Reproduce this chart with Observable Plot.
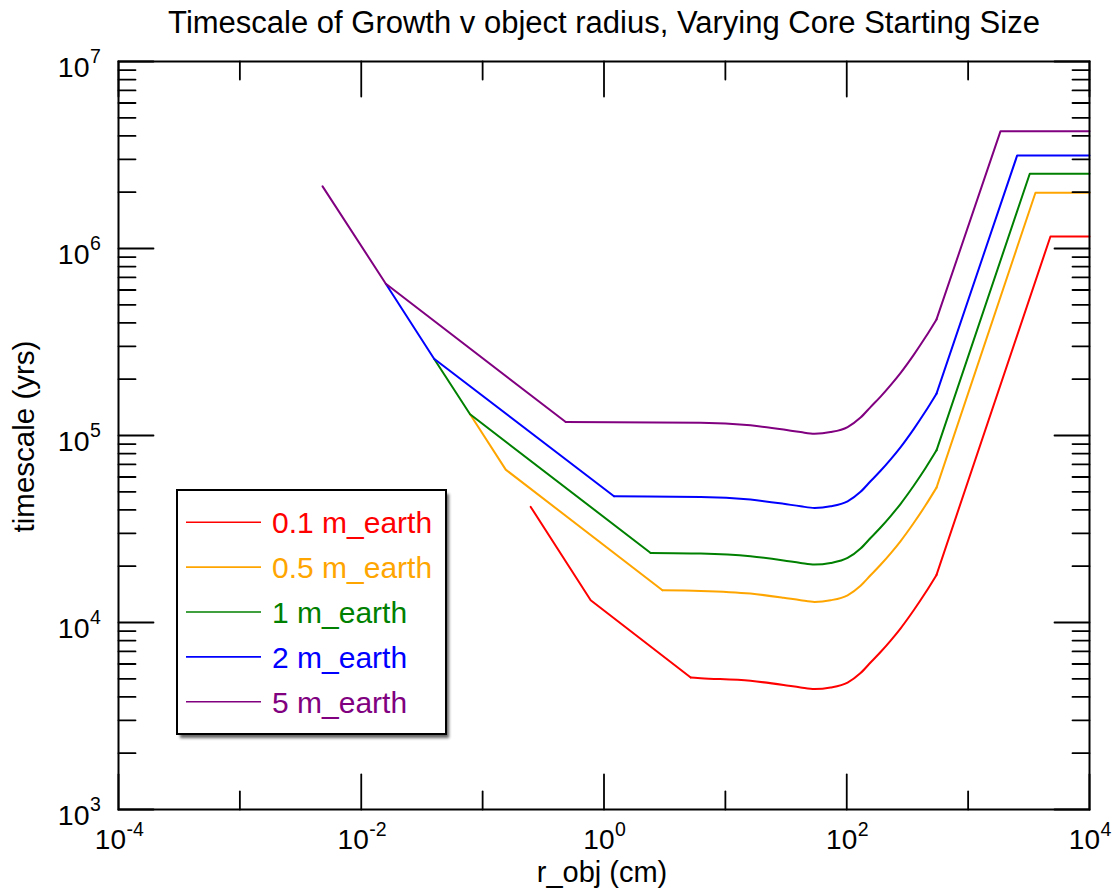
<!DOCTYPE html>
<html><head><meta charset="utf-8">
<script src="https://cdn.jsdelivr.net/npm/d3@7"></script>
<script src="https://cdn.jsdelivr.net/npm/@observablehq/plot@0.6"></script>
<style>body{margin:0;background:#fff}#chart{width:1117px;height:893px;position:relative}</style>
</head><body><div id="chart"></div>
<script>
const titleText = "Timescale of Growth v object radius, Varying Core Starting Size";
const xLabel = "r_obj (cm)";
const yLabel = "timescale (yrs)";
const seriesNames = ["0.1 m_earth", "0.5 m_earth", "1 m_earth", "2 m_earth", "5 m_earth"];
const seriesColors = ["#ff0000", "#ffa500", "#008000", "#0000ff", "#800080"];

// r_obj (cm) and timescale (yrs)
const rRed    = [0.249, 0.777, 5.18, 6.26, 16.1, 30.2, 41.7, 54.3, 73.6, 101.6, 130, 157, 190, 230, 277, 355, 446, 549, 4768, 10000];
const tRed    = [4.15e4, 1.315e4, 5.08e3, 5.04e3, 4.876e3, 4.631e3, 4.489e3, 4.403e3, 4.489e3, 4.775e3, 5.367e3, 6.107e3, 6.951e3, 8.005e3, 9.281e3, 1.159e4, 1.446e4, 1.797e4, 1.16e6, 1.16e6];
const rOrange = [0.0788, 0.155, 3.03, 6.26, 16.1, 30.2, 41.7, 54.3, 73.6, 101.6, 130, 157, 190, 230, 277, 355, 446, 549, 3587, 10000];
const tOrange = [1.298e5, 6.57e4, 1.487e4, 1.476e4, 1.428e4, 1.356e4, 1.315e4, 1.289e4, 1.315e4, 1.398e4, 1.572e4, 1.788e4, 2.036e4, 2.344e4, 2.718e4, 3.393e4, 4.234e4, 5.263e4, 1.987e6, 1.987e6];
const rGreen  = [0.0398, 0.0788, 2.424, 6.26, 16.1, 30.2, 41.7, 54.3, 73.6, 101.6, 130, 157, 190, 230, 277, 355, 446, 549, 3220, 10000];
const tGreen  = [2.575e5, 1.298e5, 2.353e4, 2.336e4, 2.259e4, 2.146e4, 2.080e4, 2.040e4, 2.080e4, 2.213e4, 2.487e4, 2.830e4, 3.221e4, 3.709e4, 4.301e4, 5.368e4, 6.699e4, 8.329e4, 2.51e6, 2.51e6];
const rBlue   = [0.01593, 0.0398, 1.209, 6.26, 16.1, 30.2, 41.7, 54.3, 73.6, 101.6, 130, 157, 190, 230, 277, 355, 446, 549, 2536, 10000];
const tBlue   = [6.48e5, 2.575e5, 4.73e4, 4.695e4, 4.542e4, 4.313e4, 4.182e4, 4.101e4, 4.182e4, 4.448e4, 4.999e4, 5.689e4, 6.475e4, 7.456e4, 8.645e4, 1.079e5, 1.347e5, 1.674e5, 3.145e6, 3.145e6];
const rPurple = [0.0048, 0.01593, 0.484, 6.26, 16.1, 30.2, 41.7, 54.3, 73.6, 101.6, 130, 157, 190, 230, 277, 355, 446, 549, 1849, 10000];
const tPurple = [2.15e6, 6.48e5, 1.18e5, 1.171e5, 1.133e5, 1.076e5, 1.043e5, 1.023e5, 1.043e5, 1.110e5, 1.247e5, 1.419e5, 1.615e5, 1.860e5, 2.157e5, 2.692e5, 3.360e5, 4.177e5, 4.24e6, 4.24e6];

// tick exponents
const xMajorExp = [-4, -2, 0, 2, 4];
const xMinorExp = [-3, -1, 1, 3];
const yMajorExp = [3, 4, 5, 6, 7];
const yMinorDecades = [3, 4, 5, 6];
const yMinorMantissas = [2, 3, 4, 5, 6, 7, 8, 9];

const rs = [rRed, rOrange, rGreen, rBlue, rPurple];
const ts = [tRed, tOrange, tGreen, tBlue, tPurple];
const rows = [];
seriesNames.forEach((name, i) => {
  const r = rs[i], t = ts[i], n = r.length;
  r.forEach((x, j) => {
    if (j <= 2) rows.push({name, key: name + "L", r: x, t: t[j], part: "lin"});
    if (j >= 2 && j <= n - 3) rows.push({name, key: name + "D", r: x, t: t[j], part: "dip"});
    if (j >= n - 3) rows.push({name, key: name + "R", r: x, t: t[j], part: "lin"});
  });
});
const yMinor = yMinorDecades.flatMap(e => yMinorMantissas.map(m => m * 10 ** e));

const tickShape = {draw(ctx, l) { ctx.moveTo(0, 0); ctx.lineTo(0, -l); }};
const tk = {anchor: "start", shape: tickShape, stroke: "black", strokeWidth: 1.8};

const plot = Plot.plot({
  width: 1117, height: 893,
  marginLeft: 118, marginRight: 28, marginTop: 61, marginBottom: 84,
  style: {fontFamily: "'Liberation Sans', Arial, Helvetica, sans-serif", fontSize: "28px", background: "white", overflow: "visible"},
  x: {type: "log", domain: [1e-4, 1e4], axis: null},
  y: {type: "log", domain: [1e3, 1e7], axis: null},
  color: {domain: seriesNames, range: seriesColors},
  marks: [
    Plot.line(rows.filter(d => d.part === "lin"), {x: "r", y: "t", z: "key", stroke: "name", strokeWidth: 2}),
    Plot.line(rows.filter(d => d.part === "dip"), {x: "r", y: "t", z: "key", stroke: "name", strokeWidth: 2, curve: "monotone-x"}),
    // bottom / top ticks
    Plot.vector(xMajorExp, {...tk, x: e => 10 ** e, frameAnchor: "bottom", length: 35, rotate: 0}),
    Plot.vector(xMinorExp, {...tk, x: e => 10 ** e, frameAnchor: "bottom", length: 18, rotate: 0}),
    Plot.vector(xMajorExp, {...tk, x: e => 10 ** e, frameAnchor: "top", length: 35, rotate: 180}),
    Plot.vector(xMinorExp, {...tk, x: e => 10 ** e, frameAnchor: "top", length: 18, rotate: 180}),
    // left / right ticks
    Plot.vector(yMajorExp, {...tk, y: e => 10 ** e, frameAnchor: "left", length: 35, rotate: 90}),
    Plot.vector(yMinor, {...tk, y: d => d, frameAnchor: "left", length: 17, rotate: 90}),
    Plot.vector(yMajorExp, {...tk, y: e => 10 ** e, frameAnchor: "right", length: 35, rotate: 270}),
    Plot.vector(yMinor, {...tk, y: d => d, frameAnchor: "right", length: 17, rotate: 270}),
    Plot.frame({stroke: "black", strokeWidth: 2}),
    // x tick labels
    Plot.text(xMajorExp.filter(e => e < 0), {x: e => 10 ** e, frameAnchor: "bottom", text: () => "10", textAnchor: "end", lineAnchor: "bottom", dx: 7.5, dy: 39.5, fontSize: 28, fill: "black"}),
    Plot.text(xMajorExp.filter(e => e < 0), {x: e => 10 ** e, frameAnchor: "bottom", text: e => String(e), textAnchor: "start", lineAnchor: "bottom", dx: 8, dy: 26, fontSize: 19.5, fill: "black"}),
    Plot.text(xMajorExp.filter(e => e >= 0), {x: e => 10 ** e, frameAnchor: "bottom", text: () => "10", textAnchor: "end", lineAnchor: "bottom", dx: 10.5, dy: 39.5, fontSize: 28, fill: "black"}),
    Plot.text(xMajorExp.filter(e => e >= 0), {x: e => 10 ** e, frameAnchor: "bottom", text: e => String(e), textAnchor: "start", lineAnchor: "bottom", dx: 11, dy: 26, fontSize: 19.5, fill: "black"}),
    // y tick labels
    Plot.text(yMajorExp, {y: e => 10 ** e, frameAnchor: "left", text: () => "10", textAnchor: "end", lineAnchor: "bottom", dx: -29, dy: 15, fontSize: 28.5, fill: "black"}),
    Plot.text(yMajorExp, {y: e => 10 ** e, frameAnchor: "left", text: e => String(e), textAnchor: "start", lineAnchor: "bottom", dx: -28.5, dy: 1, fontSize: 19.5, fill: "black"}),
    // titles
    Plot.text([titleText], {text: d => d, frameAnchor: "top", textAnchor: "middle", lineAnchor: "bottom", dy: -29, fontSize: 31, fill: "black"}),
    Plot.text([xLabel], {text: d => d, frameAnchor: "bottom", textAnchor: "middle", lineAnchor: "bottom", dx: -2, dy: 72, fontSize: 29, fill: "black"}),
    Plot.text([yLabel], {text: d => d, frameAnchor: "left", textAnchor: "middle", lineAnchor: "bottom", rotate: -90, dx: -85, dy: 1, fontSize: 29.5, fill: "black"})
  ]
});

// legend box
const svg = d3.select(plot);
const defs = svg.append("defs");
defs.append("filter").attr("id", "lgshadow").attr("x", "-10%").attr("y", "-10%").attr("width", "130%").attr("height", "130%")
  .append("feGaussianBlur").attr("stdDeviation", 1.6);
const lg = svg.append("g").attr("text-anchor", "start");
lg.append("rect").attr("x", 180).attr("y", 494).attr("width", 269).attr("height", 244)
  .attr("fill", "#333").attr("opacity", 0.75).attr("filter", "url(#lgshadow)");
lg.append("rect").attr("x", 177).attr("y", 490).attr("width", 269).attr("height", 244)
  .attr("fill", "white").attr("stroke", "black").attr("stroke-width", 2);
seriesNames.forEach((name, i) => {
  const y = 522.3 + 44.85 * i;
  lg.append("line").attr("x1", 186).attr("x2", 261).attr("y1", y).attr("y2", y)
    .attr("stroke", seriesColors[i]).attr("stroke-width", 1.6);
  lg.append("text").attr("x", 272).attr("y", y + 11).attr("font-size", 30)
    .attr("text-anchor", "start").attr("fill", seriesColors[i]).text(name);
});

document.getElementById("chart").appendChild(plot);
</script>
</body></html>
